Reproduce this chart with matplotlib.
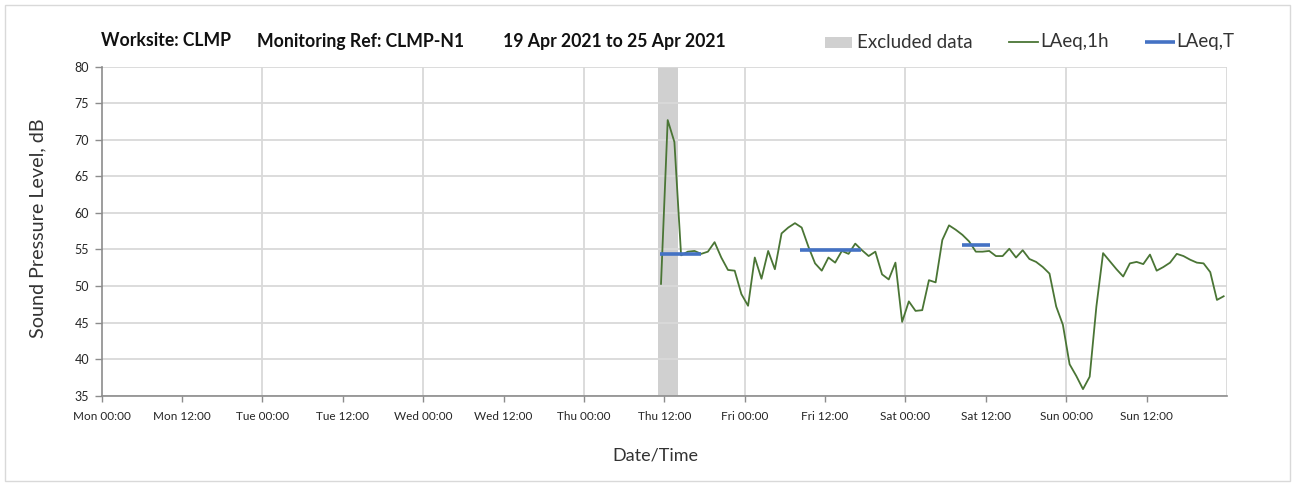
import matplotlib
matplotlib.use('Agg')
import matplotlib.pyplot as plt
import numpy as np
from matplotlib.lines import Line2D
from matplotlib.patches import Rectangle

plt.rcParams['font.family'] = ['Lato', 'DejaVu Sans']

# ---- data ----
tick_labels = ['Mon 00:00', 'Mon 12:00', 'Tue 00:00', 'Tue 12:00', 'Wed 00:00',
               'Wed 12:00', 'Thu 00:00', 'Thu 12:00', 'Fri 00:00', 'Fri 12:00',
               'Sat 00:00', 'Sat 12:00', 'Sun 00:00', 'Sun 12:00']
y_ticks = [35, 40, 45, 50, 55, 60, 65, 70, 75, 80]

# hourly LAeq,1h, first value at Thu 11:30 (hours counted from Mon 00:00)
laeq_1h_start = 83.5
laeq_1h = [50.3, 72.7, 69.7, 54.2, 54.7, 54.8, 54.4, 54.7, 56.0, 53.9,
           52.2, 52.1, 48.9, 47.3, 53.9, 51.0, 54.8, 52.3, 57.2, 58.0,
           58.6, 58.0, 55.4, 53.1, 52.1, 53.9, 53.2, 54.8, 54.4, 55.8,
           54.9, 54.1, 54.7, 51.6, 50.9, 53.2, 45.1, 47.9, 46.6, 46.7,
           50.8, 50.5, 56.3, 58.3, 57.7, 57.0, 56.1, 54.7, 54.7, 54.8,
           54.1, 54.1, 55.1, 53.9, 54.9, 53.7, 53.3, 52.6, 51.7, 47.2,
           44.7, 39.3, 37.7, 35.9, 37.6, 47.2, 54.5, 53.4, 52.3, 51.3,
           53.1, 53.3, 53.0, 54.3, 52.1, 52.6, 53.2, 54.4, 54.1, 53.6,
           53.2, 53.1, 51.9, 48.1, 48.6]

# LAeq,T periods (start hour, end hour, level)
laeq_T_start = [83.3, 104.3, 128.4]
laeq_T_end = [89.5, 113.4, 132.6]
laeq_T = [54.4, 54.9, 55.6]

# excluded data period (hours)
excluded_start = 83.0
excluded_end = 86.0

# ---- figure ----
W, H = 1295, 486
fig = plt.figure(figsize=(W / 100, H / 100), dpi=100)
fig.patch.set_facecolor('white')

# outer chart border
fig.add_artist(Rectangle((5 / W, 5 / H), (W - 10) / W, (H - 10) / H,
                         transform=fig.transFigure, fill=False,
                         edgecolor='#d9d9d9', linewidth=1.0))

left, right, top, bottom = 101.7, 1227.0, 66.7, 395.7
ax = fig.add_axes([left / W, 1 - bottom / H, (right - left) / W, (bottom - top) / H])

grid_c = '#d9d9d9'
axis_c = '#8c8c8c'

ax.set_xlim(0, 168)
ax.set_ylim(35, 80)

# grid
ax.set_yticks(y_ticks)
ax.yaxis.grid(True, color=grid_c, linewidth=1.3, zorder=0)
for xv in range(24, 169, 24):
    ax.axvline(xv, color=grid_c, linewidth=1.3, zorder=0)

# excluded band
ax.axvspan(excluded_start, excluded_end, color='#d0d0d0', linewidth=0, zorder=1)

# LAeq,1h
hours = laeq_1h_start + np.arange(len(laeq_1h))
ax.plot(hours, laeq_1h, color='#4a7535', linewidth=1.3, zorder=3)

# LAeq,T
for s, e, v in zip(laeq_T_start, laeq_T_end, laeq_T):
    ax.plot([s, e], [v, v], color='#4472c4', linewidth=2.6,
            solid_capstyle='butt', zorder=4)

# ticks
ax.set_xticks(np.arange(0, 168, 12))
ax.set_xticklabels(tick_labels, fontsize=8.5, color='#262626')
ax.set_yticklabels([str(v) for v in y_ticks], fontsize=9, color='#262626')
ax.tick_params(axis='x', direction='out', length=4, width=1, color=axis_c, pad=7)
ax.tick_params(axis='y', direction='out', length=5, width=1, color=axis_c, pad=4)

for sp in ['top', 'right']:
    ax.spines[sp].set_visible(False)
for sp in ['left', 'bottom']:
    ax.spines[sp].set_color(axis_c)
    ax.spines[sp].set_linewidth(1.2)

# axis titles
fig.text(655 / W, 1 - 455 / H, 'Date/Time', ha='center', va='center',
         fontsize=13, color='#333333')
fig.text(38 / W, 1 - 228 / H, 'Sound Pressure Level, dB', ha='center', va='center',
         rotation=90, fontsize=14.2, color='#333333')

# title
ty = 1 - 41 / H
fig.text(101 / W, ty, 'Worksite: CLMP', ha='left', va='center',
         fontsize=12.7, fontweight='bold', color='#111111')
fig.text(257 / W, ty, 'Monitoring Ref: CLMP-N1', ha='left', va='center',
         fontsize=12.7, fontweight='bold', color='#111111')
fig.text(503 / W, ty, '19 Apr 2021 to 25 Apr 2021', ha='left', va='center',
         fontsize=12.7, fontweight='bold', color='#111111')

# legend (manual)
ly = 1 - 42 / H
fig.add_artist(Rectangle((825 / W, 1 - 48 / H), 27 / W, 11 / H,
                         transform=fig.transFigure, color='#d0d0d0', linewidth=0))
fig.text(857 / W, ly, 'Excluded data', ha='left', va='center', fontsize=13.5, color='#333333')
fig.add_artist(Line2D([1009 / W, 1038 / W], [ly, ly], transform=fig.transFigure,
                      color='#4a7535', linewidth=1.3))
fig.text(1040 / W, ly, 'LAeq,1h', ha='left', va='center', fontsize=13.5, color='#333333')
fig.add_artist(Line2D([1145 / W, 1175 / W], [ly, ly], transform=fig.transFigure,
                      color='#4472c4', linewidth=2.6, solid_capstyle='butt'))
fig.text(1176 / W, ly, 'LAeq,T', ha='left', va='center', fontsize=13.5, color='#333333')

fig.savefig('out.png', dpi=100)
